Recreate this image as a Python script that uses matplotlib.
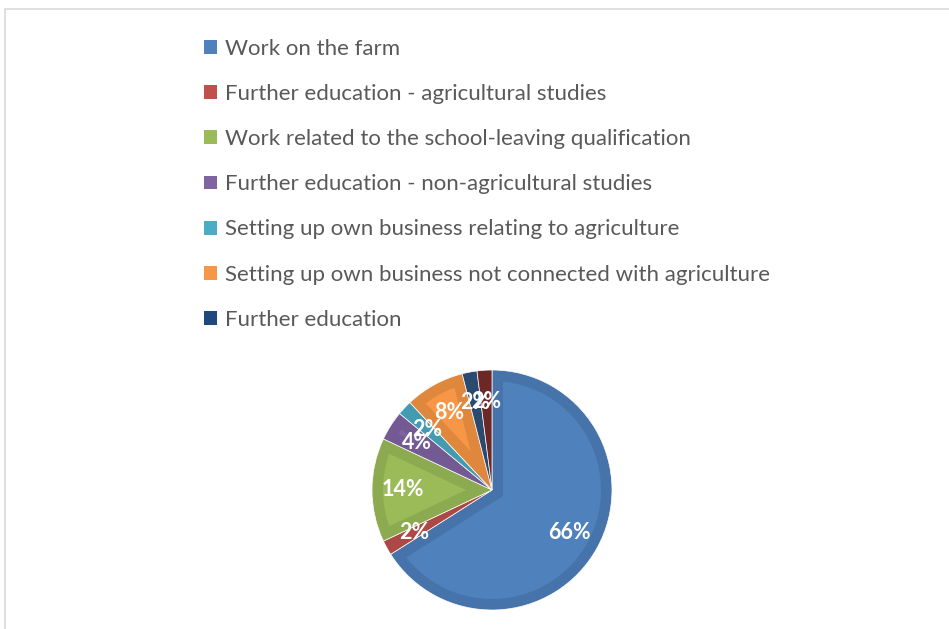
import numpy as np
import matplotlib.pyplot as plt
from matplotlib.patches import Patch, Polygon, Rectangle

categories = ['Work on the farm',
              'Further education - agricultural studies',
              'Work related to the school-leaving qualification',
              'Further education - non-agricultural studies',
              'Setting up own business relating to agriculture',
              'Setting up own business not connected with agriculture',
              'Further education',
              '']
values = [66, 2, 14, 4, 2, 8, 2, 2]
labels = ['66%', '2%', '14%', '4%', '2%', '8%', '2%', '2%']

inner_colors = ['#4F81BD', '#C0504D', '#9BBB59', '#8064A2', '#4BACC6', '#F79646', '#1F497D', '#772C2A']
outer_colors = ['#4673AA', '#AC4845', '#8CAA50', '#735A92', '#439BB2', '#E0873E', '#2A4A70', '#6B2826']

W, H = 949, 629
fig = plt.figure(figsize=(W / 100, H / 100), dpi=100)

# light frame of the chart area
fig.patches.append(Rectangle((5 / W, -0.1), 1.1, (H - 9) / H + 0.1, transform=fig.transFigure,
                             fill=False, edgecolor='#D9D9D9', linewidth=1.2))

# pie: centre (492, 490) px, radius 120 px
R = 120
ax = fig.add_axes([(492 - R) / W, (H - 490 - R) / H, 2 * R / W, 2 * R / H])
wedges, texts = ax.pie(values, colors=outer_colors, startangle=90, counterclock=False,
                       labels=labels, labeldistance=0.74,
                       wedgeprops=dict(edgecolor='white', linewidth=0.5))
for t in texts:
    t.set_ha('center')
    t.set_va('center')
    t.set_color('white')
    t.set_fontweight('bold')
    t.set_fontsize(15.5)
    t.set_family(['Lato', 'DejaVu Sans'])

# bevel: lighter inset area of each wedge
d = 11 / R
for w, c in zip(wedges, inner_colors):
    a1, a2 = np.radians(w.theta1), np.radians(w.theta2)
    half = (a2 - a1) / 2
    t = d / np.sin(half)
    if t > 1 - 2 * d:
        continue
    mid = (a1 + a2) / 2
    apex = (t * np.cos(mid), t * np.sin(mid))
    s = np.sqrt((1 - d) ** 2 - d ** 2)
    delta = np.arctan2(d, s)
    th = np.linspace(a1 + delta, a2 - delta, 100)
    pts = [apex] + list(zip((1 - d) * np.cos(th), (1 - d) * np.sin(th)))
    ax.add_patch(Polygon(pts, closed=True, facecolor=c, edgecolor='none', zorder=1.5))
for t in texts:
    t.set_zorder(3)

ax.set_xlim(-1, 1)
ax.set_ylim(-1, 1)
ax.set_aspect('equal')
ax.axis('off')

handles = [Patch(facecolor=c, edgecolor='none') for c in inner_colors[:7]]
leg = fig.legend(handles, categories[:7], loc='upper left',
                 bbox_to_anchor=(204 / W, (H - 39) / H), frameon=False,
                 prop={'family': ['Lato', 'DejaVu Sans'], 'size': 16},
                 handlelength=0.58, handleheight=0.58, handletextpad=0.38,
                 labelspacing=1.13, borderpad=0, borderaxespad=0)
for txt in leg.get_texts():
    txt.set_color('#595959')

fig.savefig('out.png', dpi=100)
